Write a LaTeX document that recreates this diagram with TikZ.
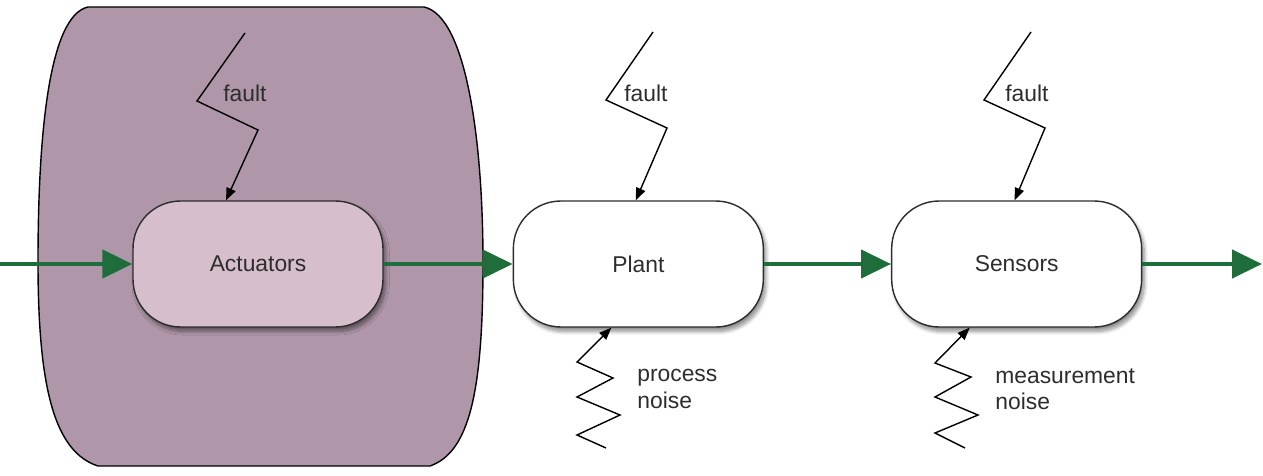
\documentclass[tikz,border=0pt]{standalone}
\usepackage{fontspec}
\setmainfont{Liberation Sans}
\usetikzlibrary{positioning, arrows.meta, shadows.blur}
\definecolor{flow}{RGB}{31, 109, 58}
\definecolor{mauve}{RGB}{175, 151, 169}
\definecolor{mauvelt}{RGB}{214, 190, 205}
\definecolor{ink}{RGB}{45, 45, 45}

\begin{document}
\begin{tikzpicture}[
    x=0.02cm, y=-0.02cm,
    block/.style={
        draw=ink,
        line width=0.8pt,
        rounded corners=0.95cm,
        fill=#1,
        minimum width=5cm,
        minimum height=2.52cm,
        font=\fontsize{13}{15}\selectfont,
        text=ink,
        blur shadow={shadow xshift=1.5pt, shadow yshift=-2.5pt,
            shadow blur steps=8, shadow opacity=45}
    },
    block/.default=white,
    signal/.style={-{Triangle[length=0.6cm, width=0.56cm]}, line width=2.5pt, flow},
    bolt/.style={-{Triangle[length=7pt, width=5.5pt]}, line width=0.8pt, black},
    lbl/.style={font=\fontsize{13}{15}\selectfont, text=ink, align=left,
        inner sep=0pt, anchor=west}
]
\useasboundingbox (0,0) rectangle (1263,476);

% === Actuator group ===
\draw[fill=mauve, line width=0.8pt] (88,7) -- (424,7)
    .. controls (466,16) and (483,140) .. (483,262)
    .. controls (483,390) and (470,452) .. (430,466) -- (98,466)
    .. controls (55,452) and (38,390) .. (38,262)
    .. controls (38,140) and (48,16) .. (88,7) -- cycle;

% === Blocks ===
\node[block=mauvelt] (act) at (258,264) {Actuators};
\node[block, right=2.58cm of act] (plant) {Plant};
\node[block, right=2.54cm of plant] (sens) {Sensors};

% === Signal path ===
\coordinate (in) at (0,264);
\coordinate (out) at (1262,264);
\draw[signal] (in) -- (act.west);
\draw[signal] (act.east) -- (plant.west);
\draw[signal] (plant.east) -- (sens.west);
\draw[signal] (sens.east) -- (out);

% === Faults ===
\coordinate (actf) at (245,33);
\draw[bolt] (actf) -- (197,101) -- (258,130) -- ([xshift=-0.64cm]act.north);
\node[lbl] (actfl) at (223,93) {fault};

\coordinate (plantf) at (653,32);
\draw[bolt] (plantf) -- (606,100) -- (667,128) -- ([xshift=-0.05cm]plant.north);
\node[lbl] (plantfl) at (624,93) {fault};

\coordinate (sensf) at (1031,32);
\draw[bolt] (sensf) -- (984,100) -- (1045,128) -- ([xshift=-0.04cm]sens.north);
\node[lbl] (sensfl) at (1005,93) {fault};

% === Noise ===
\coordinate (plantn) at (606,448);
\draw[bolt] (plantn) -- (577,435) -- (620,415) -- (577,397) -- (613,378)
    -- (577,362) -- ([xshift=-0.54cm]plant.south);
\node[lbl] (plantnl) at (637,389) {process\\noise};

\coordinate (sensn) at (965,448);
\draw[bolt] (sensn) -- (935,433) -- (978,415) -- (935,397) -- (971,377)
    -- (935,363) -- ([xshift=-0.94cm]sens.south);
\node[lbl] (sensnl) at (995,389) {measurement\\noise};

\end{tikzpicture}
\end{document}
